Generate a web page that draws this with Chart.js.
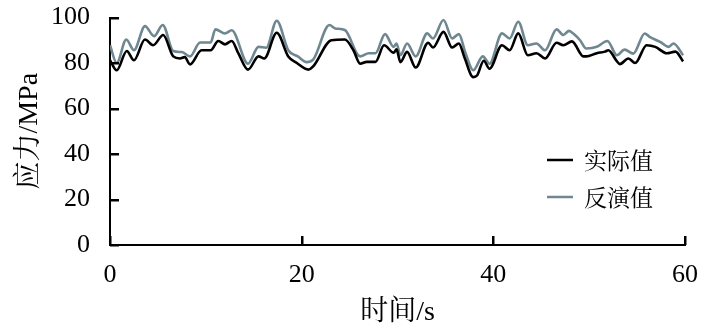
<!DOCTYPE html>
<html>
<head>
<meta charset="utf-8">
<script src="https://cdn.jsdelivr.net/npm/chart.js@4/dist/chart.umd.min.js"></script>
<style>
html,body{margin:0;padding:0;background:#fff;}
#wrap{width:709px;height:331px;position:relative;}
</style>
</head>
<body>
<div id="wrap"><canvas id="c" width="709" height="331"></canvas></div>
<script>
// Series names
const seriesNames = ['实际值', '反演值'];
// 实际值 (actual) : time (s) and stress (MPa)
const timeActual = [0, 0.7, 1.75, 2.5, 3.65, 4.5, 5.55, 6.6, 7.3, 7.8, 8.35, 9.55, 10.5, 11.3, 12.0, 12.7, 13.4, 14.4, 15.5, 16.1, 17.4, 18.6, 19.5, 20.7, 21.2, 23.1, 24.5, 25.4, 26.1, 26.8, 27.7, 28.6, 29.6, 29.9, 30.3, 31.0, 31.9, 33.2, 33.7, 34.8, 35.7, 36.4, 37.0, 37.9, 38.3, 39.0, 39.6, 40.9, 41.7, 42.6, 43.6, 44.5, 45.4, 46.6, 47.3, 48.2, 49.4, 49.7, 50.8, 51.65, 52.0, 52.9, 53.2, 54.1, 54.8, 56.0, 56.9, 58.1, 59.0, 59.8];
const actualValues = [81.2, 76.8, 85.3, 81.2, 90.3, 87.8, 92.3, 82.9, 82.0, 82.6, 79.4, 85.6, 85.6, 89.7, 88.2, 89.7, 84.2, 77.1, 82.9, 82.0, 93.3, 82.9, 80.0, 77.1, 78.5, 90.0, 90.3, 85.6, 79.7, 80.5, 80.5, 87.8, 84.5, 86.0, 80.4, 84.9, 78.0, 88.9, 86.8, 93.7, 86.8, 88.6, 82.3, 73.8, 74.5, 81.0, 77.5, 87.8, 85.6, 93.0, 83.4, 84.3, 82.0, 88.9, 87.8, 89.5, 82.9, 82.9, 84.3, 85.0, 85.6, 80.7, 79.5, 82.0, 80.0, 87.8, 87.1, 84.3, 85.0, 80.7];
// 反演值 (inverse) : time (s) and stress (MPa)
const timeInverse = [0, 0.7, 1.7, 2.5, 3.65, 4.6, 5.5, 6.6, 7.5, 8.35, 9.4, 10.5, 11.0, 12.0, 12.7, 14.4, 15.5, 16.3, 17.4, 18.6, 19.6, 20.5, 21.2, 22.9, 23.5, 24.5, 26.1, 27.0, 27.7, 28.7, 29.6, 29.9, 30.3, 31.0, 31.9, 33.1, 33.7, 34.8, 35.7, 36.4, 37.1, 37.9, 38.9, 39.6, 40.9, 41.7, 42.6, 43.6, 44.5, 45.4, 46.6, 47.3, 47.9, 48.4, 49.05, 49.7, 50.8, 51.9, 52.9, 53.7, 54.6, 55.8, 56.3, 57.4, 58.3, 58.8, 59.8];
const inverseValues = [87.8, 80.0, 90.3, 85.6, 96.2, 91.8, 96.7, 85.3, 84.8, 82.9, 89.0, 89.0, 94.8, 93.0, 94.4, 79.7, 87.1, 86.7, 98.6, 85.6, 82.9, 80.4, 81.5, 96.7, 95.2, 94.5, 82.9, 84.3, 84.3, 92.7, 87.1, 88.6, 83.4, 88.6, 82.9, 93.0, 90.8, 98.9, 90.8, 92.7, 84.3, 76.8, 82.9, 79.7, 93.0, 90.8, 98.1, 87.8, 88.6, 85.6, 94.8, 92.3, 94.1, 92.7, 90.0, 86.4, 87.1, 89.7, 83.4, 85.9, 84.1, 93.0, 91.5, 89.3, 87.1, 88.6, 83.4];
// Axis ticks
const xTicks = [0, 20, 40, 60];
const yTicks = [0, 20, 40, 60, 80, 100];
const xTitle = '时间/s';
const yTitle = '应力/MPa';

const toPts = (xs, ys) => xs.map((x, i) => ({x: x, y: ys[i]}));
const serif = "'Liberation Serif', 'Times New Roman', 'Noto Serif CJK SC', 'Noto Sans CJK SC', serif";
const cjk = "'Liberation Serif', 'Noto Serif CJK SC', 'Noto Sans CJK SC', serif";

// inward tick marks + inside legend, placed with the library's scales
const decor = {
  id: 'decor',
  afterDraw(chart) {
    const ctx = chart.ctx;
    const xs = chart.scales.x, ys = chart.scales.y;
    const area = chart.chartArea;
    const len = 9;
    ctx.save();
    ctx.fillStyle = '#000000';
    xTicks.forEach(v => {
      const px = Math.round(xs.getPixelForValue(v));
      ctx.fillRect(px - 1, area.bottom - len, 2.5, len);
    });
    yTicks.forEach(v => {
      const py = Math.round(ys.getPixelForValue(v));
      ctx.fillRect(area.left, py - 1, len, 2.5);
    });

    const rows = [160, 197];
    chart.data.datasets.forEach((ds, i) => {
      const y = rows[i];
      ctx.strokeStyle = ds.borderColor;
      ctx.lineWidth = 2.5;
      ctx.beginPath();
      ctx.moveTo(547, y);
      ctx.lineTo(573, y);
      ctx.stroke();
      ctx.fillStyle = '#000';
      ctx.font = "23px 'Noto Serif CJK SC', 'Noto Sans CJK SC', serif";
      ctx.textBaseline = 'middle';
      ctx.textAlign = 'left';
      ctx.fillText(ds.label, 584, y);
    });
    ctx.restore();
  }
};

new Chart(document.getElementById('c'), {
  type: 'line',
  data: {
    datasets: [
      {label: seriesNames[0], data: toPts(timeActual, actualValues), borderColor: '#000000', borderWidth: 2.6, pointRadius: 0, cubicInterpolationMode: 'monotone', fill: false},
      {label: seriesNames[1], data: toPts(timeInverse, inverseValues), borderColor: '#6f8790', borderWidth: 2.6, pointRadius: 0, cubicInterpolationMode: 'monotone', fill: false}
    ]
  },
  options: {
    responsive: false,
    animation: false,
    events: [],
    layout: {padding: {left: 0, right: 24, top: 17.5, bottom: 0}},
    plugins: {legend: {display: false}, tooltip: {enabled: false}},
    scales: {
      x: {
        type: 'linear', min: 0, max: 60,
        afterBuildTicks: (s) => { s.ticks = xTicks.map(v => ({value: v})); },
        afterFit: (s) => { s.height = 86; s.paddingLeft = 0; s.paddingRight = 0; },
        grid: {display: false},
        border: {display: true, color: '#000', width: 2},
        ticks: {color: '#000', font: {family: serif, size: 26}, padding: 7, maxRotation: 0},
        title: {display: true, text: xTitle, color: '#000', font: {family: cjk, size: 28}, padding: {top: 0, bottom: 2}}
      },
      y: {
        type: 'linear', min: 0, max: 100,
        afterBuildTicks: (s) => { s.ticks = yTicks.map(v => ({value: v})); },
        afterFit: (s) => { s.width = 110; s.paddingTop = 0; s.paddingBottom = 0; },
        grid: {display: false},
        border: {display: true, color: '#000', width: 2},
        ticks: {color: '#000', font: {family: serif, size: 26}, padding: 12},
        title: {display: true, text: yTitle, color: '#000', font: {family: cjk, size: 28}, padding: {top: 13, bottom: 0}}
      }
    }
  },
  plugins: [decor]
});
</script>
</body>
</html>
